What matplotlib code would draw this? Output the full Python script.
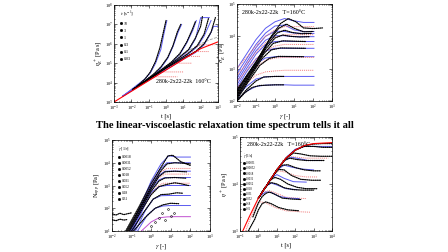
import numpy as np
import matplotlib
matplotlib.use("Agg")
import matplotlib.pyplot as plt
from matplotlib.lines import Line2D

plt.rcParams['font.family'] = ['Liberation Serif', 'DejaVu Serif']
plt.rcParams['mathtext.fontset'] = 'stix'

# ---------------- panel 1: eta_E+ vs t (log10 values) ----------------
p1_rates = ['10', '3', '1', '0.3', '0.1', '0.03']
p1_lve_t = [-3, -2, -1, 0, 1, 2, 3]
p1_lve_eta = [3.0, 3.55, 4.1, 4.65, 5.2, 5.75, 6.1]
p1_grey_t = [0.5, 1, 1.5, 2, 2.5, 3]
p1_grey_eta = [5.25, 5.5, 5.75, 6.0, 6.2, 6.35]
p1_data_t = [[-1.9, -1.5, -1.2, -0.9, -0.6, -0.35, -0.15, 0.0],
             [-1.9, -1.2, -0.7, -0.3, 0.1, 0.4, 0.65, 0.85],
             [-1.9, -1.0, -0.3, 0.3, 0.8, 1.2, 1.5, 1.7],
             [-1.9, -0.8, 0.0, 0.7, 1.3, 1.7, 2.0, 2.1],
             [-1.9, -0.5, 0.5, 1.2, 1.8, 2.2, 2.45],
             [-1.9, 0.0, 1.0, 1.7, 2.2, 2.6, 2.85]]
p1_data_eta = [[3.65, 3.95, 4.2, 4.55, 5.1, 5.8, 6.6, 7.2],
               [3.65, 4.1, 4.45, 4.8, 5.3, 5.9, 6.6, 7.0],
               [3.65, 4.2, 4.65, 5.05, 5.5, 6.1, 6.7, 7.15],
               [3.65, 4.3, 4.8, 5.25, 5.7, 6.3, 6.9, 7.4],
               [3.65, 4.45, 5.05, 5.45, 5.9, 6.5, 7.3],
               [3.65, 4.75, 5.25, 5.6, 6.0, 6.6, 7.35]]
p1_blue_t = [[-2.5, -1.2, -0.9, -0.6, -0.3, -0.1, 0.05],
             [-2.5, -0.7, -0.3, 0.1, 0.4, 0.7, 0.9],
             [-2.5, -0.3, 0.3, 0.8, 1.2, 1.55, 1.75],
             [-2.5, 0.0, 0.7, 1.3, 1.7, 2.0, 2.5],
             [-2.5, 0.5, 1.2, 1.8, 2.2, 2.5, 2.6],
             [-2.5, 1.0, 1.7, 2.2, 2.55, 2.75, 3.0]]
p1_blue_eta = [[3.3, 4.2, 4.5, 5.0, 5.7, 6.6, 7.2],
               [3.3, 4.4, 4.75, 5.25, 5.85, 6.6, 7.0],
               [3.3, 4.6, 5.0, 5.45, 6.05, 6.7, 7.2],
               [3.3, 4.75, 5.2, 5.65, 6.25, 7.35, 7.35],
               [3.3, 5.0, 5.4, 5.85, 6.4, 7.0, 7.2],
               [3.3, 5.2, 5.55, 5.95, 6.5, 6.9, 6.9]]
p1_red_t = [[-1.0, -0.7, 0.66], [-0.6, -0.3, 1.03], [0.1, 0.4, 1.5],
            [0.7, 1.0, 1.97], [1.1, 1.4, 2.5], [1.7, 2.0, 2.8]]
p1_red_eta = [[4.15, 4.3, 4.3], [4.4, 4.55, 4.55], [4.85, 5.0, 5.0],
              [5.2, 5.35, 5.35], [5.45, 5.6, 5.6], [5.8, 5.95, 5.95]]

# ---------------- panel 2: sigma_E+ vs gamma ----------------
p2_data_g = [[-2, -1.6, -1.2, -0.8, 0, 0.5],
             [-2, -1.5, -1.0, -0.6, 0, 0.5],
             [-2, -1.4, -0.8, -0.3, 0.2, 1.5],
             [-2, -1.3, -0.7, -0.2, 0.3, 1.6],
             [-2, -1.2, -0.6, -0.1, 0.4, 1.6],
             [-2, -1.1, -0.5, 0.0, 0.4, 0.8, 1.3, 1.8],
             [-2, -1.0, -0.4, 0.1, 0.5, 0.9, 1.4, 1.9],
             [-2, -1.0, -0.3, 0.2, 0.6, 1.0, 1.5, 2.0],
             [-2, -0.9, -0.2, 0.3, 0.7, 1.1, 1.5, 2.0, 2.5]]
p2_data_s = [[2.0, 2.25, 2.42, 2.48, 2.5, 2.5],
             [2.0, 2.35, 2.62, 2.74, 2.76, 2.76],
             [2.05, 2.6, 3.1, 3.32, 3.38, 3.37],
             [2.1, 2.75, 3.3, 3.58, 3.64, 3.63],
             [2.15, 2.9, 3.45, 3.78, 3.86, 3.84],
             [2.2, 3.0, 3.6, 3.95, 4.04, 4.0, 3.98, 3.99],
             [2.25, 3.15, 3.75, 4.1, 4.19, 4.12, 4.08, 4.09],
             [2.3, 3.2, 3.9, 4.25, 4.38, 4.25, 4.14, 4.15],
             [2.35, 3.3, 4.0, 4.4, 4.55, 4.45, 4.26, 4.24, 4.26]]
p2_mod_g = [-2, -1.5, -1, -0.5, 0, 0.5, 1, 1.5, 2.05]
p2_blue_s = [[2.05, 2.3, 2.45, 2.49, 2.5, 2.5, 2.49, 2.49, 2.49],
             [2.15, 2.45, 2.68, 2.75, 2.76, 2.76, 2.76, 2.76, 2.76],
             [2.3, 2.75, 3.15, 3.33, 3.37, 3.37, 3.37, 3.37, 3.37],
             [2.4, 2.9, 3.3, 3.55, 3.63, 3.63, 3.63, 3.63, 3.63],
             [2.5, 3.0, 3.45, 3.75, 3.84, 3.85, 3.84, 3.84, 3.84],
             [2.6, 3.1, 3.55, 3.88, 4.02, 4.02, 3.99, 3.99, 3.99],
             [2.7, 3.2, 3.65, 4.0, 4.16, 4.15, 4.1, 4.09, 4.09],
             [2.85, 3.3, 3.75, 4.1, 4.32, 4.35, 4.2, 4.15, 4.15],
             [3.0, 3.45, 3.9, 4.25, 4.45, 4.55, 4.48, 4.43, 4.43]]
p2_red_s = [[3.0, 3.35, 3.7, 4.0, 4.2, 4.3, 4.3, 4.3, 4.3],
            [2.8, 3.15, 3.5, 3.8, 3.98, 4.05, 4.05, 4.05, 4.05],
            [2.6, 2.95, 3.3, 3.55, 3.7, 3.75, 3.75, 3.75, 3.75],
            [2.4, 2.75, 3.05, 3.25, 3.33, 3.35, 3.35, 3.35, 3.35],
            [2.2, 2.55, 2.8, 2.9, 2.93, 2.95, 2.95, 2.95, 2.95]]

# ---------------- panel 3: N_app vs gamma ----------------
p3_rates = ['0.0018', '0.0031', '0.0052', '0.018', '0.031', '0.052', '0.18', '0.31']
p3_data_g = [[-1.3, -0.6, 0.0, 0.5, 0.85, 1.1, 1.5, 2.0],
             [-1.25, -0.6, 0.0, 0.5, 0.8, 1.2, 1.6, 2.0],
             [-1.2, -0.6, 0, 0.4, 0.7, 1.2, 1.8],
             [-1.15, -0.5, 0, 0.4, 0.7, 1.2, 1.8],
             [-1.1, -0.5, 0, 0.4, 0.8, 1.2, 1.5, 1.9],
             [-1.0, -0.4, 0.1, 0.5, 0.9, 1.3, 1.6],
             [-0.9, -0.3, 0.2, 0.6, 1.0, 1.4],
             [-2, -1.8, -1.6, -1.4, -1.2, -1.0],
             [-2, -1.8, -1.6, -1.4, -1.25]]
p3_data_n = [[1.0, 2.1, 3.1, 3.8, 4.3, 4.33, 4.05, 3.88],
             [1.0, 2.0, 2.95, 3.65, 3.95, 4.0, 3.98, 3.95],
             [1.0, 1.95, 2.85, 3.4, 3.6, 3.63, 3.6],
             [1.0, 2.0, 2.75, 3.2, 3.33, 3.35, 3.32],
             [1.0, 1.9, 2.6, 2.95, 3.05, 3.12, 3.08, 3.0],
             [1.0, 1.8, 2.4, 2.6, 2.62, 2.68, 2.66],
             [1.0, 1.6, 2.0, 2.15, 2.22, 2.2],
             [1.75, 1.7, 1.78, 1.72, 1.76, 1.8],
             [1.5, 1.45, 1.52, 1.48, 1.5]]
p3_open_g = [0.0, 0.2, 0.4, 0.55, 0.7, 0.85, 1.0, 1.15]
p3_open_n = [1.2, 1.4, 1.55, 1.8, 1.5, 1.95, 1.65, 1.8]
p3_blue_g = [[-1.1, -0.5, 0, 0.5, 0.9, 1.3, 2.0],
             [-1.05, -0.5, 0, 0.5, 0.8, 1.2, 2.0],
             [-1.0, -0.5, 0, 0.4, 0.7, 2.0],
             [-0.95, -0.5, 0, 0.4, 0.7, 2.0],
             [-0.9, -0.4, 0, 0.4, 0.8, 2.0],
             [-0.8, -0.3, 0.1, 0.5, 0.9, 2.0],
             [-0.7, -0.2, 0.2, 0.6, 1.0, 2.0],
             [-0.5, 0.0, 0.4, 0.8, 1.2, 2.0]]
p3_blue_n = [[1.0, 2.2, 3.2, 3.95, 4.31, 4.25, 4.25],
             [1.0, 2.1, 3.05, 3.75, 4.0, 4.0, 4.0],
             [1.0, 2.0, 2.95, 3.45, 3.63, 3.63],
             [1.0, 1.9, 2.85, 3.25, 3.35, 3.35],
             [1.0, 2.0, 2.7, 2.95, 3.0, 3.0],
             [1.0, 1.9, 2.4, 2.55, 2.56, 2.56],
             [1.0, 1.7, 2.0, 2.1, 2.12, 2.12],
             [1.0, 1.4, 1.58, 1.62, 1.63, 1.63]]
p3_red_g = [[-1.15, -0.6, -0.1, 0.4, 0.8, 2.0],
            [-1.1, -0.6, -0.1, 0.3, 0.7, 2.0],
            [-1.0, -0.5, -0.1, 0.3, 0.6, 2.0]]
p3_red_n = [[1.0, 2.0, 2.9, 3.55, 3.75, 3.75],
            [1.0, 1.9, 2.75, 3.3, 3.5, 3.5],
            [1.0, 1.85, 2.5, 2.95, 3.1, 3.1]]

# ---------------- panel 4: eta+ vs t ----------------
p4_rates = ['0.00031', '0.00052', '0.0018', '0.0031', '0.0052',
            '0.018', '0.031', '0.052', '0.18', '0.31']
p4_lve_t = [-0.85, -0.5, 0, 0.5, 1, 1.5, 2, 2.5, 3, 4]
p4_lve_eta = [3.0, 3.3, 3.7, 4.0, 4.3, 4.55, 4.72, 4.82, 4.86, 4.88]
p4_data_t = [[0.0, 0.5, 1, 1.5, 2, 2.5, 3, 3.5, 4],
             [0.0, 0.5, 1, 1.5, 2, 2.5, 3, 3.5, 4],
             [0, 0.5, 1, 1.5, 1.9, 2.3, 2.8, 3.4, 4.0],
             [0, 0.5, 1, 1.4, 1.7, 2.1, 2.6, 3.2, 3.6],
             [0, 0.5, 1, 1.3, 1.6, 2.0, 2.5, 3.0, 3.4],
             [0, 0.5, 0.9, 1.1, 1.4, 1.8, 2.3, 2.9, 3.4],
             [0, 0.4, 0.7, 0.9, 1.2, 1.6, 2.1, 2.6, 3.2],
             [0, 0.3, 0.5, 0.7, 1.0, 1.4, 1.9, 2.4, 3.0],
             [-0.3, 0, 0.2, 0.4, 0.6, 0.9, 1.3, 1.8, 2.3],
             [-0.55, -0.2, 0, 0.2, 0.4, 0.7, 1.1, 1.6, 2.2]]
p4_data_eta = [[3.7, 4.0, 4.3, 4.55, 4.72, 4.82, 4.85, 4.86, 4.86],
               [3.7, 4.0, 4.3, 4.55, 4.72, 4.8, 4.8, 4.78, 4.78],
               [3.7, 4.0, 4.3, 4.54, 4.66, 4.64, 4.6, 4.59, 4.59],
               [3.7, 4.0, 4.3, 4.5, 4.55, 4.52, 4.5, 4.5, 4.5],
               [3.7, 4.0, 4.3, 4.4, 4.41, 4.35, 4.3, 4.28, 4.28],
               [3.7, 4.0, 4.22, 4.31, 4.3, 4.18, 4.1, 4.08, 4.08],
               [3.7, 3.95, 4.1, 4.14, 4.1, 4.0, 3.93, 3.9, 3.9],
               [3.7, 3.88, 3.98, 4.03, 4.0, 3.92, 3.88, 3.87, 3.87],
               [3.3, 3.6, 3.73, 3.8, 3.83, 3.78, 3.7, 3.68, 3.67],
               [3.0, 3.25, 3.45, 3.58, 3.62, 3.58, 3.5, 3.45, 3.43]]
p4_blue_t = [[1.5, 2, 2.5, 3, 3.5, 4],
             [1.4, 1.8, 2.2, 2.7, 3.4],
             [1.0, 1.4, 1.8, 2.3, 3.0],
             [0.7, 1.0, 1.4, 1.9, 2.6],
             [0.4, 0.7, 1.0, 1.5, 2.1],
             [0.1, 0.4, 0.7, 1.1, 1.6, 2.2]]
p4_blue_eta = [[4.56, 4.74, 4.8, 4.8, 4.8, 4.8],
               [4.5, 4.57, 4.54, 4.5, 4.5],
               [4.3, 4.4, 4.36, 4.32, 4.3],
               [4.12, 4.2, 4.12, 4.05, 4.04],
               [3.95, 4.02, 3.98, 3.9, 3.88],
               [3.75, 3.83, 3.82, 3.74, 3.7, 3.69]]
p4_red_t = [[-0.7, -0.4, -0.1, 0.1, 0.4, 0.9, 1.5, 2.2, 2.8],
            [0.0, 0.3, 0.6, 1.0, 1.5, 2.0, 2.6],
            [0.8, 1.1, 1.5, 2.0, 2.6, 3.2],
            [1.3, 1.7, 2.1, 2.6, 3.2, 3.8]]
p4_red_eta = [[3.0, 3.3, 3.55, 3.62, 3.6, 3.5, 3.43, 3.41, 3.4],
              [3.7, 3.83, 3.86, 3.8, 3.72, 3.7, 3.69],
              [4.2, 4.28, 4.25, 4.18, 4.15, 4.15],
              [4.5, 4.58, 4.57, 4.55, 4.55, 4.55]]

BLACK = dict(color='black', lw=0.9, ls=(0, (0.8, 0.9)), dash_capstyle='round')
BLUE = dict(color='#5b5bf0', lw=0.7)
RED = dict(color='#f07878', lw=0.7, ls=(0, (1, 1)))


def p(v):
    return 10 ** np.asarray(v, dtype=float)


def style(ax, xlim, ylim, xlabel, ylabel):
    ax.set_xscale('log')
    ax.set_yscale('log')
    ax.set_xlim(10.0 ** xlim[0], 10.0 ** xlim[1])
    ax.set_ylim(10.0 ** ylim[0], 10.0 ** ylim[1])
    ax.tick_params(which='both', direction='in', top=True, right=True,
                   labelsize=3.2, width=0.4, pad=1.0)
    ax.tick_params(which='major', length=2)
    ax.tick_params(which='minor', length=1)
    for s in ax.spines.values():
        s.set_linewidth(0.5)
    ax.set_xlabel(xlabel, fontsize=4.5, labelpad=0.5)
    ax.set_ylabel(ylabel, fontsize=4.5, labelpad=0.5)


def legend(ax, labels, title, fs, spacing, anchor):
    hs = [Line2D([], [], marker='s', ls='', color='black', ms=1.0) for _ in labels]
    lg = ax.legend(hs, labels, title=title, loc='upper left', bbox_to_anchor=anchor,
                   frameon=False, fontsize=fs, title_fontsize=fs + 0.4,
                   labelspacing=spacing, handlelength=0.5, handletextpad=0.5,
                   borderpad=0.1, borderaxespad=0)
    lg._legend_box.align = 'left'


fig = plt.figure(figsize=(4.48, 2.52), dpi=100)

# panel 1
ax1 = fig.add_axes([114 / 448, 150 / 252, 104 / 448, 97 / 252])
for t, e in zip(p1_blue_t, p1_blue_eta):
    ax1.plot(p(t), p(e), **BLUE)
for t, e in zip(p1_red_t, p1_red_eta):
    ax1.plot(p(t), p(e), **RED)
ax1.plot(p(p1_grey_t), p(p1_grey_eta), color='#a0a0a0', lw=0.6, ls='--')
for t, e in zip(p1_data_t, p1_data_eta):
    ax1.plot(p(t), p(e), **BLACK)
ax1.plot(p(p1_lve_t), p(p1_lve_eta), color='red', lw=0.8)
style(ax1, (-3, 3), (3, 8), 't [s]', r'$\eta^+_E$ [Pa s]')
legend(ax1, p1_rates, r'$\dot{\varepsilon}$ [s$^{-1}$]', 3.0, 0.75, (0.05, 0.96))
ax1.text(0.4, 0.2, '280k-2x22-22k  160°C', transform=ax1.transAxes, fontsize=4.3)

# panel 2
ax2 = fig.add_axes([237 / 448, 151 / 252, 95 / 448, 97 / 252])
for s in p2_blue_s:
    ax2.plot(p(p2_mod_g), p(s), **BLUE)
for s in p2_red_s:
    ax2.plot(p(p2_mod_g), p(s), **RED)
for g, s in zip(p2_data_g, p2_data_s):
    ax2.plot(p(g), p(s), **BLACK)
style(ax2, (-2, 3), (2, 5), r'$\gamma$ [-]', r'$\sigma^+_E$ [Pa]')
ax2.text(0.05, 0.9, '280k-2x22-22k   T=160°C', transform=ax2.transAxes, fontsize=4.3)

# title
fig.text(0.502, 0.5, 'The linear-viscoelastic relaxation time spectrum tells it all',
         ha='center', va='center', fontsize=7.6, fontweight='bold')

# panel 3
ax3 = fig.add_axes([112 / 448, 21 / 252, 98 / 448, 91 / 252])
for g, n in zip(p3_red_g, p3_red_n):
    ax3.plot(p(g), p(n), **RED)
for i, (g, n) in enumerate(zip(p3_blue_g, p3_blue_n)):
    kw = dict(BLUE)
    if i == len(p3_blue_g) - 1:
        kw['color'] = '#c050d0'
    ax3.plot(p(g), p(n), **kw)
for g, n in zip(p3_data_g, p3_data_n):
    ax3.plot(p(g), p(n), **BLACK)
ax3.plot(p(p3_open_g), p(p3_open_n), ls='', marker='o', ms=1.3, mfc='none',
         mec='black', mew=0.4)
style(ax3, (-2, 3), (1, 5), r'$\gamma$ [-]', r'N$_{app}$ [Pa]')
legend(ax3, p3_rates, r'$\dot{\gamma}$ [1/s]', 2.6, 0.55, (0.06, 0.95))

# panel 4
ax4 = fig.add_axes([240 / 448, 21 / 252, 92 / 448, 94 / 252])
for t, e in zip(p4_red_t, p4_red_eta):
    ax4.plot(p(t), p(e), **RED)
for t, e in zip(p4_blue_t, p4_blue_eta):
    ax4.plot(p(t), p(e), **BLUE)
for t, e in zip(p4_data_t, p4_data_eta):
    ax4.plot(p(t), p(e), **BLACK)
ax4.plot(p(p4_lve_t), p(p4_lve_eta), color='red', lw=0.8)
style(ax4, (-1, 4), (3, 5), 't [s]', r'$\eta^+$ [Pa s]')
legend(ax4, p4_rates, r'$\dot{\gamma}$ [1/s]', 2.2, 0.35, (0.03, 0.84))
ax4.text(0.08, 0.9, '280k-2x22-22k   T=160°C', transform=ax4.transAxes, fontsize=4.3)

fig.savefig('out.png', dpi=100)
